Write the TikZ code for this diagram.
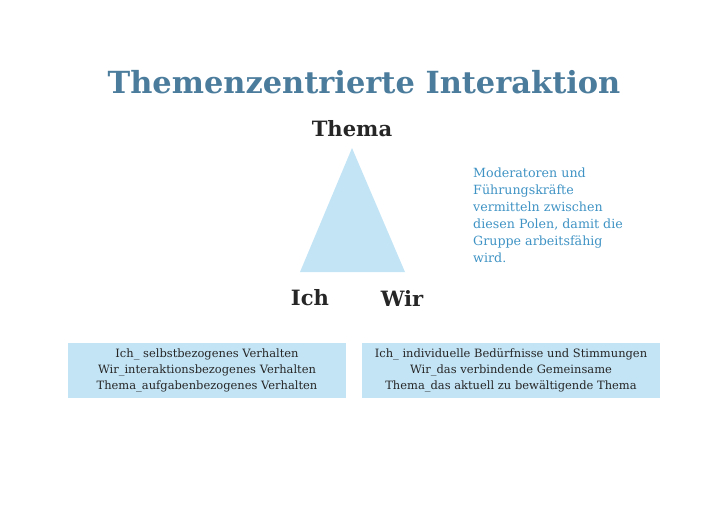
\documentclass[tikz,border=0pt]{standalone}
\usepackage{fontspec}
\setmainfont{DejaVu Serif}
\usetikzlibrary{positioning}
\definecolor{titleblue}{HTML}{4B7C9C}
\definecolor{noteblue}{HTML}{3F93C4}
\definecolor{paleblue}{HTML}{C3E4F5}
\begin{document}
\begin{tikzpicture}[x=0.3mm, y=-0.3mm,
    pole/.style={font=\fontsize{18}{20}\selectfont\bfseries, text=black!85},
    infobox/.style={fill=paleblue, align=center, inner sep=0pt,
                    font=\fontsize{9.8}{13.6}\selectfont, text=black!85},
  ]
  \useasboundingbox (0,0) rectangle (728,515);

  % Title
  \node[font=\fontsize{26}{30}\selectfont\bfseries, text=titleblue] (title) at (364,82) {Themenzentrierte Interaktion};

  % Triangle
  \coordinate (apex) at (352,148);
  \coordinate (left) at (300,272);
  \coordinate (right) at (405,272);
  \fill[paleblue] (apex) -- (left) -- (right) -- cycle;
  \node[pole] (thema) at (352,129) {Thema};
  \node[pole] (ich) at (310,298) {Ich};
  \node[pole] (wir) at (402,298) {Wir};

  % Note
  \node[anchor=north west, align=left, text=noteblue, inner sep=0pt,
        font=\fontsize{10.8}{14.5}\selectfont] (note) at (473,168)
    {Moderatoren und\\Führungskräfte\\vermitteln zwischen\\diesen Polen, damit die\\Gruppe arbeitsfähig\\wird.};

  % Boxes
  \node[infobox, minimum width=278*0.3mm, minimum height=55*0.3mm] (leftbox) at (207,370.5)
    {Ich\_ selbstbezogenes Verhalten\\Wir\_interaktionsbezogenes Verhalten\\Thema\_aufgabenbezogenes Verhalten};
  \node[infobox, minimum width=298*0.3mm, minimum height=55*0.3mm] (rightbox) at (511,370.5)
    {Ich\_ individuelle Bedürfnisse und Stimmungen\\Wir\_das verbindende Gemeinsame\\Thema\_das aktuell zu bewältigende Thema};
\end{tikzpicture}
\end{document}
